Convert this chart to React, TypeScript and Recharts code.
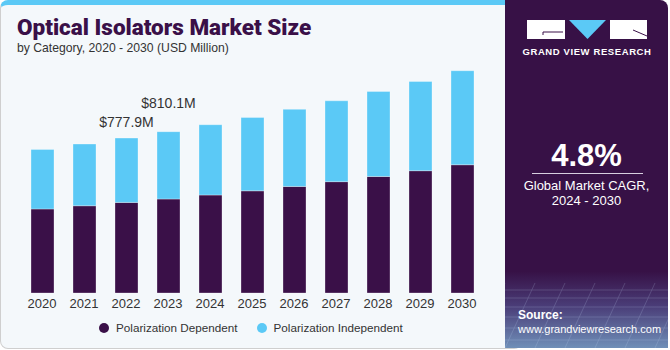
import { Bar, BarChart, LabelList, XAxis, YAxis } from "recharts";

const years = ["2020", "2021", "2022", "2023", "2024", "2025", "2026", "2027", "2028", "2029", "2030"];
const dependent = [422, 438, 455, 472, 492, 513, 535, 559, 585, 614, 644];
const independent = [299, 310, 323, 338, 353, 368, 387, 406, 427, 448, 472];
const callouts = [
  { year: "2022", text: "$777.9M" },
  { year: "2023", text: "$810.1M" },
];

const DARK = "#3a1048";
const LIGHT = "#5bc9f6";
const FONT = "'Liberation Sans', Arial, sans-serif";

// how far above the bar top each callout sits
const calloutLift: Record<string, number> = { "2022": 11, "2023": 24 };

const data = years.map((year, i) => ({
  year,
  dependent: dependent[i],
  independent: independent[i],
}));

function Callout(props: any) {
  const { x, y, width, index } = props;
  const year = years[index];
  const c = callouts.find((d) => d.year === year);
  if (!c) return null;
  return (
    <text
      x={x + width / 2}
      y={y - calloutLift[year]}
      textAnchor="middle"
      fontSize={14}
      fontFamily={FONT}
      fill="#333"
    >
      {c.text}
    </text>
  );
}

function Logo() {
  return (
    <svg width={130} height={60} style={{ position: "absolute", left: 522, top: 14 }}>
      <rect x={5} y={6} width={38} height={19} fill="#fff" />
      <path d="M21 18 H41 M21 18 V21" stroke={DARK} strokeWidth={1} fill="none" />
      <polygon points="47,6 84,6 65.5,25" fill={LIGHT} />
      <rect x={88} y={6} width={37} height={19} fill="#fff" />
      <path d="M111 16 L125 22" stroke={DARK} strokeWidth={1} />
      <text x={65} y={41} textAnchor="middle" fontSize={9.5} fontWeight={700} fontFamily={FONT} fill="#fff" letterSpacing={0.6}>
        GRAND VIEW RESEARCH
      </text>
    </svg>
  );
}

export default function App() {
  return (
    <div style={{ position: "absolute", left: 0, top: 0, width: 670, height: 350, fontFamily: FONT, overflow: "hidden", background: "#fff" }}>
      <div
        style={{
          position: "absolute",
          left: 0,
          top: 0,
          width: 520,
          height: 343,
          background: "#f4f8fb",
          border: "1px solid #cfcfcf",
          borderTop: `5px solid ${LIGHT}`,
          borderRadius: 8,
        }}
      />
      <div style={{ position: "absolute", left: 17, top: 14, fontSize: 22.5, fontWeight: 900, color: DARK, fontFamily: "Roboto, sans-serif" }}>
        Optical Isolators Market Size
      </div>
      <div style={{ position: "absolute", left: 17, top: 41, fontSize: 12.2, color: "#333" }}>
        by Category, 2020 - 2030 (USD Million)
      </div>

      <div style={{ position: "absolute", left: 0, top: 0 }}>
        <BarChart width={500} height={350} data={data} margin={{ top: 54, right: 17, bottom: 37, left: 21 }} barSize={23}>
          <XAxis
            dataKey="year"
            axisLine={false}
            tickLine={false}
            tickSize={6}
            tickMargin={0}
            height={20}
            interval={0}
            tick={{ fontSize: 13, fill: "#333", fontFamily: FONT }}
          />
          <YAxis hide domain={[0, 1200]} />
          <Bar dataKey="dependent" stackId="a" fill={DARK} stroke="rgba(255,255,255,0.3)" strokeWidth={1} isAnimationActive={false} />
          <Bar dataKey="independent" stackId="a" fill={LIGHT} stroke="rgba(255,255,255,0.3)" strokeWidth={1} isAnimationActive={false}>
            <LabelList dataKey="independent" content={<Callout />} />
          </Bar>
        </BarChart>
      </div>

      <div style={{ position: "absolute", left: 99, top: 321, display: "flex", alignItems: "center", fontSize: 11.7, color: "#333", whiteSpace: "nowrap" }}>
        <span style={{ width: 10, height: 10, borderRadius: 5, background: DARK, marginRight: 7 }} />
        <span>Polarization Dependent</span>
        <span style={{ width: 10, height: 10, borderRadius: 5, background: LIGHT, marginLeft: 19, marginRight: 7 }} />
        <span>Polarization Independent</span>
      </div>

      <div
        style={{
          position: "absolute",
          left: 505,
          top: 0,
          width: 163,
          height: 348,
          borderTopRightRadius: 8,
          overflow: "hidden",
          background: `linear-gradient(to bottom, #371146 0%, #371146 78%, #4a3d78 88%, #6f8fb8 100%)`,
        }}
      >
        <svg width={163} height={348} style={{ position: "absolute", left: 0, top: 0, opacity: 0.25 }}>
          {[290, 298, 307, 317, 328, 340].map((y) => (
            <line key={y} x1={0} x2={163} y1={y} y2={y} stroke="#cfe3ff" strokeWidth={0.7} />
          ))}
          {[-60, -30, 0, 30, 60, 90, 120, 150, 180, 210].map((x) => (
            <line key={x} x1={x + 30} y1={283} x2={x} y2={348} stroke="#cfe3ff" strokeWidth={0.7} />
          ))}
        </svg>
      </div>
      <Logo />
      <div style={{ position: "absolute", left: 505, top: 138, width: 163, textAlign: "center", color: "#fff", fontSize: 31, fontWeight: 700 }}>
        4.8%
      </div>
      <div style={{ position: "absolute", left: 532, top: 173, width: 111, height: 1, background: "#d8cfe0" }} />
      <div style={{ position: "absolute", left: 505, top: 178, width: 163, textAlign: "center", color: "#fff", fontSize: 13, lineHeight: "15px" }}>
        Global Market CAGR,
        <br />
        2024 - 2030
      </div>
      <div style={{ position: "absolute", left: 518, top: 308, color: "#fff", fontSize: 11, lineHeight: "14px" }}>
        <b style={{ fontSize: 12 }}>Source:</b>
        <br />
        www.grandviewresearch.com
      </div>
    </div>
  );
}
